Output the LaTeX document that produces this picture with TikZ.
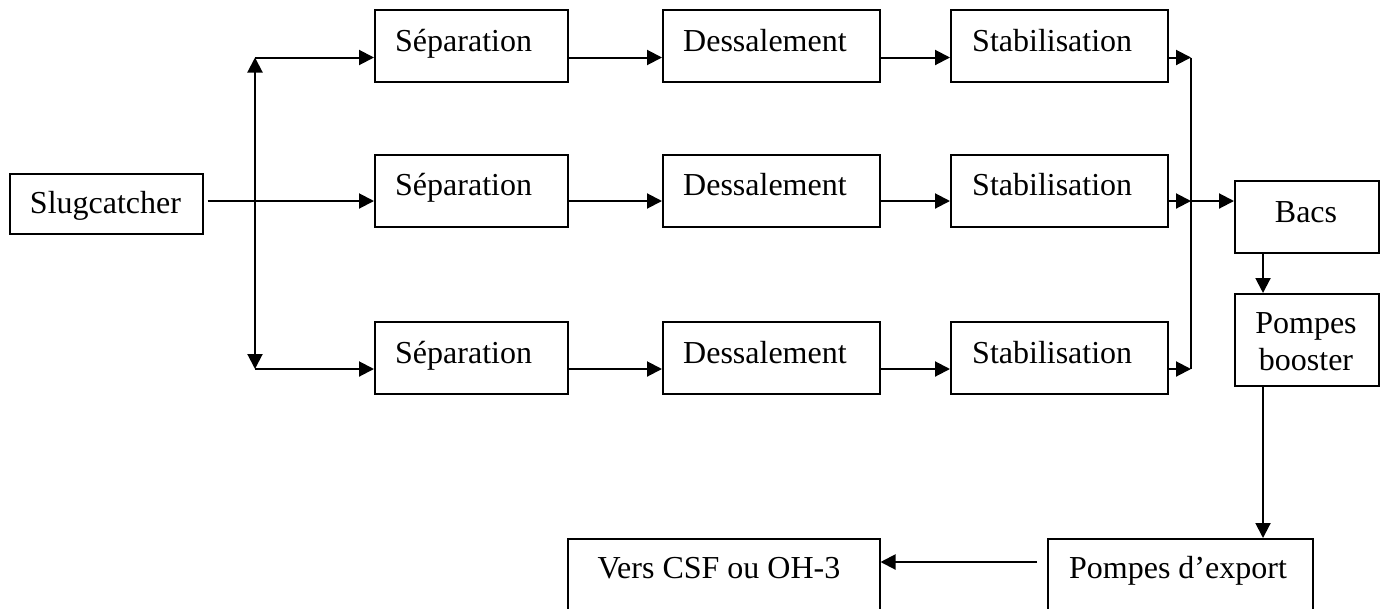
\documentclass[tikz,border=0pt]{standalone}
\usepackage{fontspec}
\setmainfont{Liberation Serif}
\usetikzlibrary{arrows.meta,calc}
\begin{document}
\begin{tikzpicture}[x=1pt,y=-1pt,
  box/.style={draw=black,line width=1.5pt,rectangle,anchor=north west,inner sep=0pt},
  lbl/.style={inner sep=0pt,font=\fontsize{32}{37}\selectfont},
  arr/.style={line width=2pt,-{Triangle[length=15pt,width=15pt]}},
  arrb/.style={line width=2pt,{Triangle[length=15pt,width=15pt]}-{Triangle[length=15pt,width=15pt]}},
  ln/.style={line width=2pt}]
\useasboundingbox (0,0) rectangle (1383,608);
\clip (0,0) rectangle (1383,608);
% boxes
\node[box,minimum width=193pt,minimum height=60pt] (slug) at (9,173) {};
\node[box,minimum width=193pt,minimum height=72pt] (sep1) at (374,9) {};
\node[box,minimum width=193pt,minimum height=72pt] (sep2) at (374,154) {};
\node[box,minimum width=193pt,minimum height=72pt] (sep3) at (374,321) {};
\node[box,minimum width=217pt,minimum height=72pt] (des1) at (662,9) {};
\node[box,minimum width=217pt,minimum height=72pt] (des2) at (662,154) {};
\node[box,minimum width=217pt,minimum height=72pt] (des3) at (662,321) {};
\node[box,minimum width=217pt,minimum height=72pt] (stb1) at (950,9) {};
\node[box,minimum width=217pt,minimum height=72pt] (stb2) at (950,154) {};
\node[box,minimum width=217pt,minimum height=72pt] (stb3) at (950,321) {};
\node[box,minimum width=144pt,minimum height=72pt] (bacs) at (1234,180) {};
\node[box,minimum width=144pt,minimum height=92pt] (boost) at (1234,293) {};
\node[box,minimum width=265pt,minimum height=90pt] (exp) at (1047,538) {};
\node[box,minimum width=312pt,minimum height=90pt] (vers) at (567,538) {};
% labels
\node[lbl,anchor=base] (tslug) at (105.5,213) {Slugcatcher};
\node[lbl,anchor=base west] (ts1) at (395,51) {Séparation};
\node[lbl,anchor=base west] (ts2) at (395,195) {Séparation};
\node[lbl,anchor=base west] (ts3) at (395,363) {Séparation};
\node[lbl,anchor=base west] (td1) at (683,51) {Dessalement};
\node[lbl,anchor=base west] (td2) at (683,195) {Dessalement};
\node[lbl,anchor=base west] (td3) at (683,363) {Dessalement};
\node[lbl,anchor=base west] (tt1) at (972,51) {Stabilisation};
\node[lbl,anchor=base west] (tt2) at (972,195) {Stabilisation};
\node[lbl,anchor=base west] (tt3) at (972,363) {Stabilisation};
\node[lbl,anchor=base] (tbacs) at (1306,222) {Bacs};
\node[lbl,anchor=base] (tb1) at (1306,333) {Pompes};
\node[lbl,anchor=base] (tb2) at (1306,370) {booster};
\node[lbl,anchor=base] (texp) at (1178,578) {Pompes d’export};
\node[lbl,anchor=base] (tvers) at (719,578) {Vers CSF ou OH-3};
% coordinates
\coordinate (d1) at (255,57.5);
\coordinate (d2) at (255,201);
\coordinate (d3) at (255,369);
\coordinate (c1) at (1191,57.5);
\coordinate (c2) at (1191,201);
\coordinate (c3) at (1191,369);
\coordinate (ax) at (1263,0);
\coordinate (ey) at (0,562);
% distribution
\draw[arrb] (d1) -- (d3);
\draw[arr] (d1) -- (sep1.west |- d1);
\draw[arr] (d3) -- (sep3.west |- d3);
\draw[arr,shorten <=4pt] (slug.east |- d2) -- (sep2.west |- d2);
% rows
\draw[arr] (sep1.east |- d1) -- (des1.west |- d1);
\draw[arr] (sep2.east |- d2) -- (des2.west |- d2);
\draw[arr] (sep3.east |- d3) -- (des3.west |- d3);
\draw[arr] (des1.east |- d1) -- (stb1.west |- d1);
\draw[arr] (des2.east |- d2) -- (stb2.west |- d2);
\draw[arr] (des3.east |- d3) -- (stb3.west |- d3);
\draw[arr] (stb1.east |- c1) -- (c1);
\draw[arr] (stb2.east |- c2) -- (c2);
\draw[arr] (stb3.east |- c3) -- (c3);
% collector
\draw[ln] (c1) -- (c3);
\draw[arr] (c2) -- (bacs.west |- c2);
\draw[arr] (bacs.south -| ax) -- (boost.north -| ax);
\draw[arr] (boost.south -| ax) -- (exp.north -| ax);
\draw[arr,shorten <=10pt] (exp.west |- ey) -- (vers.east |- ey);
\end{tikzpicture}
\end{document}
